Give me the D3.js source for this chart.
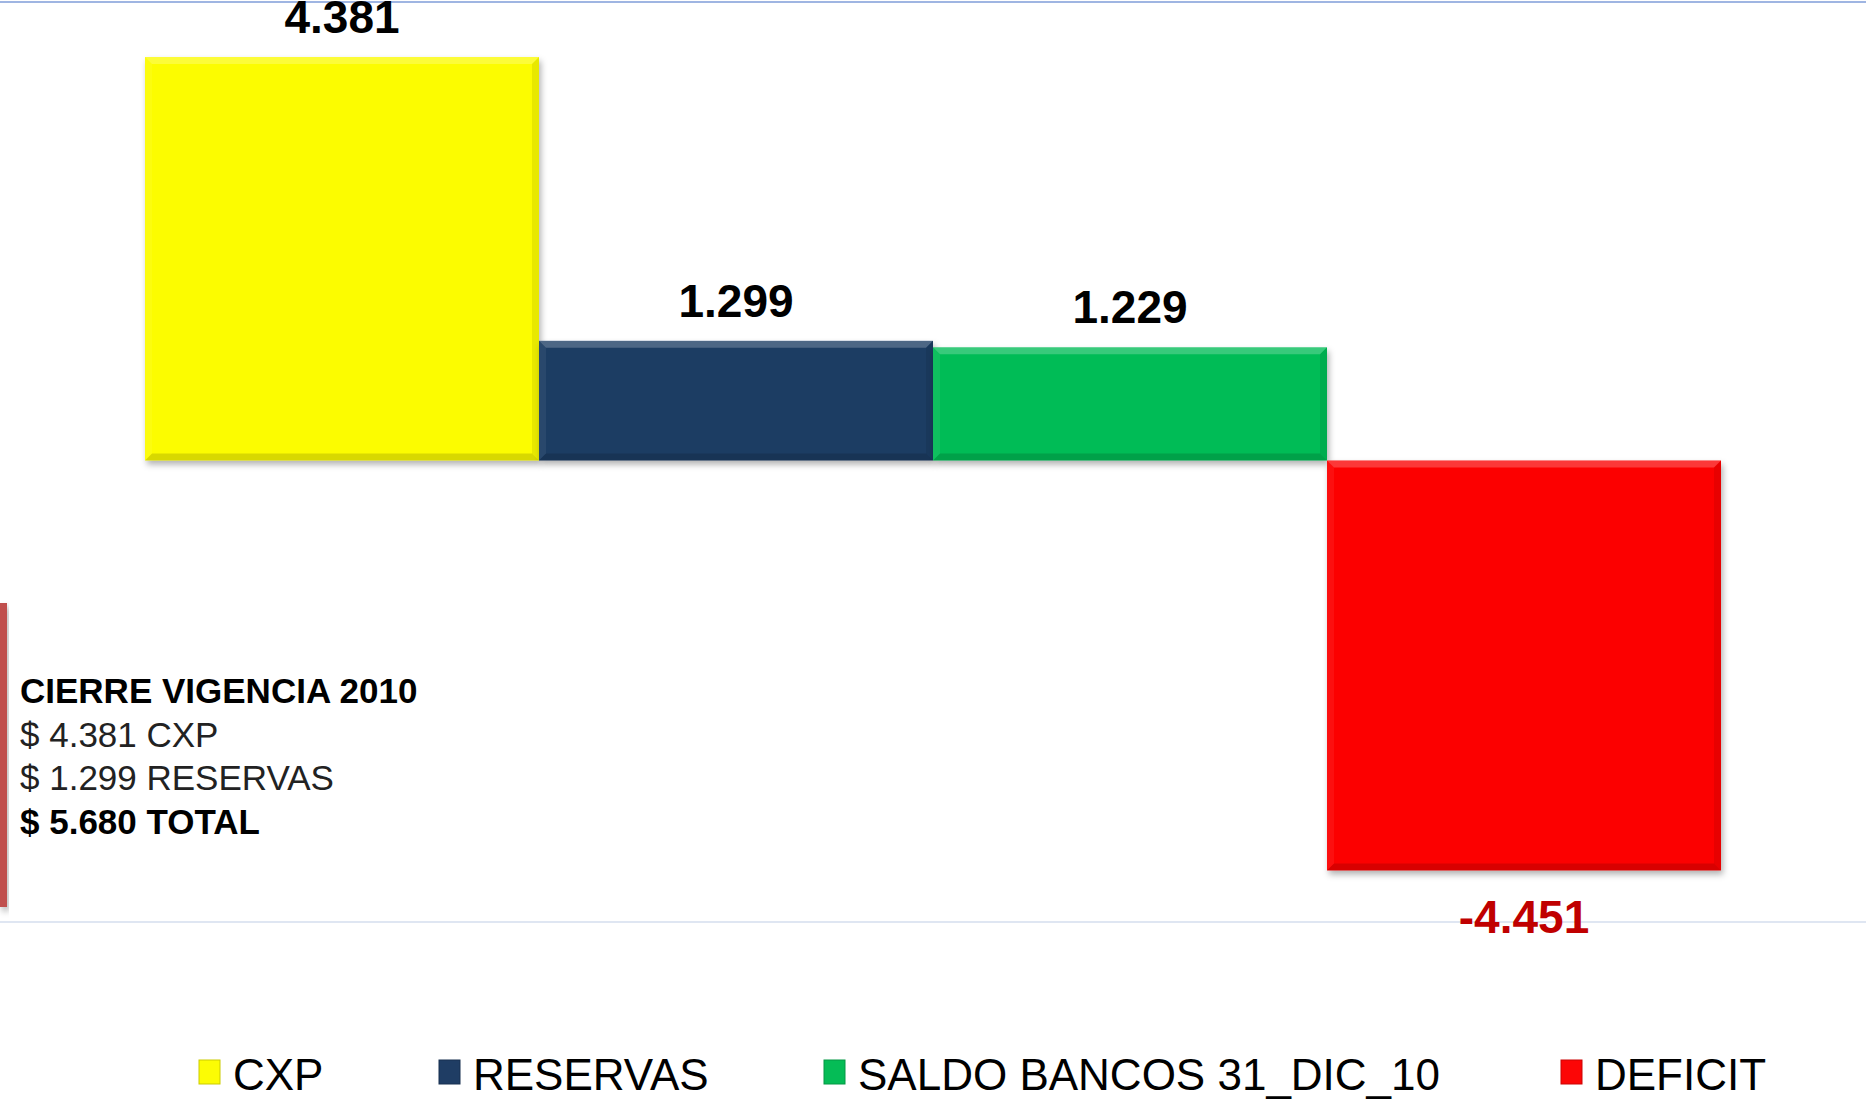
<!DOCTYPE html>
<meta charset="utf-8">
<script src="https://d3js.org/d3.v7.min.js"></script>
<style>
body { margin: 0; background: #fff; }
text { font-family: "Liberation Sans", Arial, sans-serif; }
</style>
<div id="chart"></div>
<script>

// data
var categories = ["CXP", "RESERVAS", "SALDO BANCOS 31_DIC_10", "DEFICIT"];
var values = [4.381, 1.299, 1.229, -4.451];
var colors = ["#fcfc04", "#1f3d64", "#05bc56", "#fc0606"];
var noteLines = ["CIERRE VIGENCIA 2010", "$ 4.381 CXP", "$ 1.299 RESERVAS", "$ 5.680 TOTAL"];
var noteBold = [true, false, false, true];

var width = 1866, height = 1101;

var svg = d3.select("#chart")
  .append("svg")
    .attr("width", width)
    .attr("height", height);

var defs = svg.append("defs");
defs.append("filter")
    .attr("id", "shadow")
    .attr("x", "-10%").attr("y", "-10%")
    .attr("width", "130%").attr("height", "130%")
  .append("feDropShadow")
    .attr("dx", 2).attr("dy", 4)
    .attr("stdDeviation", 3)
    .attr("flood-color", "#000")
    .attr("flood-opacity", 0.3);

// frame lines
svg.append("line")
    .attr("x1", 0).attr("x2", width)
    .attr("y1", 2).attr("y2", 2)
    .style("stroke", "#9fb5e2").style("stroke-width", 2);
svg.append("line")
    .attr("x1", 0).attr("x2", width)
    .attr("y1", 922).attr("y2", 922)
    .style("stroke", "#dfe6f2").style("stroke-width", 2);

// scales
var x = d3.scaleBand()
  .domain(categories)
  .range([145, 1721])
  .padding(0);

var y = d3.scaleLinear()
  .domain([-5, 5])
  .range([921, 0]);

var data = categories.map(function(c, i) {
  return {name: c, value: values[i], color: colors[i]};
});

// bars
var bars = svg.append("g")
  .selectAll("g")
  .data(data)
  .enter()
  .append("g");

bars.append("rect")
    .attr("x", function(d) { return x(d.name); })
    .attr("y", function(d) { return Math.min(y(d.value), y(0)); })
    .attr("width", x.bandwidth())
    .attr("height", function(d) { return Math.abs(y(d.value) - y(0)); })
    .style("fill", function(d) { return d.color; })
    .attr("filter", "url(#shadow)");

// bevel edges
var b = 7;
function bevel(d, side) {
  var x0 = x(d.name), x1 = x0 + x.bandwidth();
  var y0 = Math.min(y(d.value), y(0)), y1 = Math.max(y(d.value), y(0));
  var p;
  if (side == "top") p = [[x0, y0], [x1, y0], [x1 - b, y0 + b], [x0 + b, y0 + b]];
  if (side == "bottom") p = [[x0, y1], [x1, y1], [x1 - b, y1 - b], [x0 + b, y1 - b]];
  if (side == "left") p = [[x0, y0], [x0 + b, y0 + b], [x0 + b, y1 - b], [x0, y1]];
  if (side == "right") p = [[x1, y0], [x1 - b, y0 + b], [x1 - b, y1 - b], [x1, y1]];
  return "M" + p.join("L") + "Z";
}
bars.append("path").attr("d", function(d) { return bevel(d, "top"); })
    .style("fill", "#fff").style("opacity", 0.22);
bars.append("path").attr("d", function(d) { return bevel(d, "left"); })
    .style("fill", "#fff").style("opacity", 0.06);
bars.append("path").attr("d", function(d) { return bevel(d, "right"); })
    .style("fill", "#000").style("opacity", 0.08);
bars.append("path").attr("d", function(d) { return bevel(d, "bottom"); })
    .style("fill", "#000").style("opacity", 0.14);

// value labels (plain hyphen for the minus, as in the original)
var fmt = d3.formatLocale({decimal: ".", thousands: ",", grouping: [3], currency: ["$", ""], minus: "-"}).format(".3f");
svg.append("g")
  .selectAll("text")
  .data(data)
  .enter()
  .append("text")
    .attr("x", function(d) { return x(d.name) + x.bandwidth() / 2; })
    .attr("y", function(d) { return d.value >= 0 ? y(d.value) - 24 : y(d.value) + 63; })
    .attr("text-anchor", "middle")
    .style("font-size", "46px")
    .style("font-weight", "bold")
    .style("fill", function(d) { return d.value >= 0 ? "#000" : "#c00000"; })
    .text(function(d) { return fmt(d.value); });

// side note
svg.append("rect")
    .attr("x", 0).attr("y", 603)
    .attr("width", 7).attr("height", 304)
    .style("fill", "#c0504d")
    .attr("filter", "url(#shadow)");

svg.append("g")
  .selectAll("text")
  .data(noteLines)
  .enter()
  .append("text")
    .attr("x", 20)
    .attr("y", function(d, i) { return 703 + i * 43.5; })
    .style("font-size", "35px")
    .style("font-weight", function(d, i) { return noteBold[i] ? "bold" : "normal"; })
    .style("fill", function(d, i) { return noteBold[i] ? "#000" : "#222"; })
    .text(function(d) { return d; });

// legend
var legendX = [199, 439, 824, 1561];
var legend = svg.append("g")
  .selectAll("g")
  .data(data)
  .enter()
  .append("g")
    .attr("transform", function(d, i) { return "translate(" + legendX[i] + ",1060)"; });

legend.append("rect")
    .attr("width", 21).attr("height", 24)
    .style("fill", function(d) { return d.color; })
    .style("stroke", function(d) { return d3.color(d.color).darker(0.6); })
    .style("stroke-width", 1);

legend.append("text")
    .attr("x", 34)
    .attr("y", 30)
    .style("font-size", "44px")
    .style("fill", "#000")
    .text(function(d) { return d.name; });

</script>
